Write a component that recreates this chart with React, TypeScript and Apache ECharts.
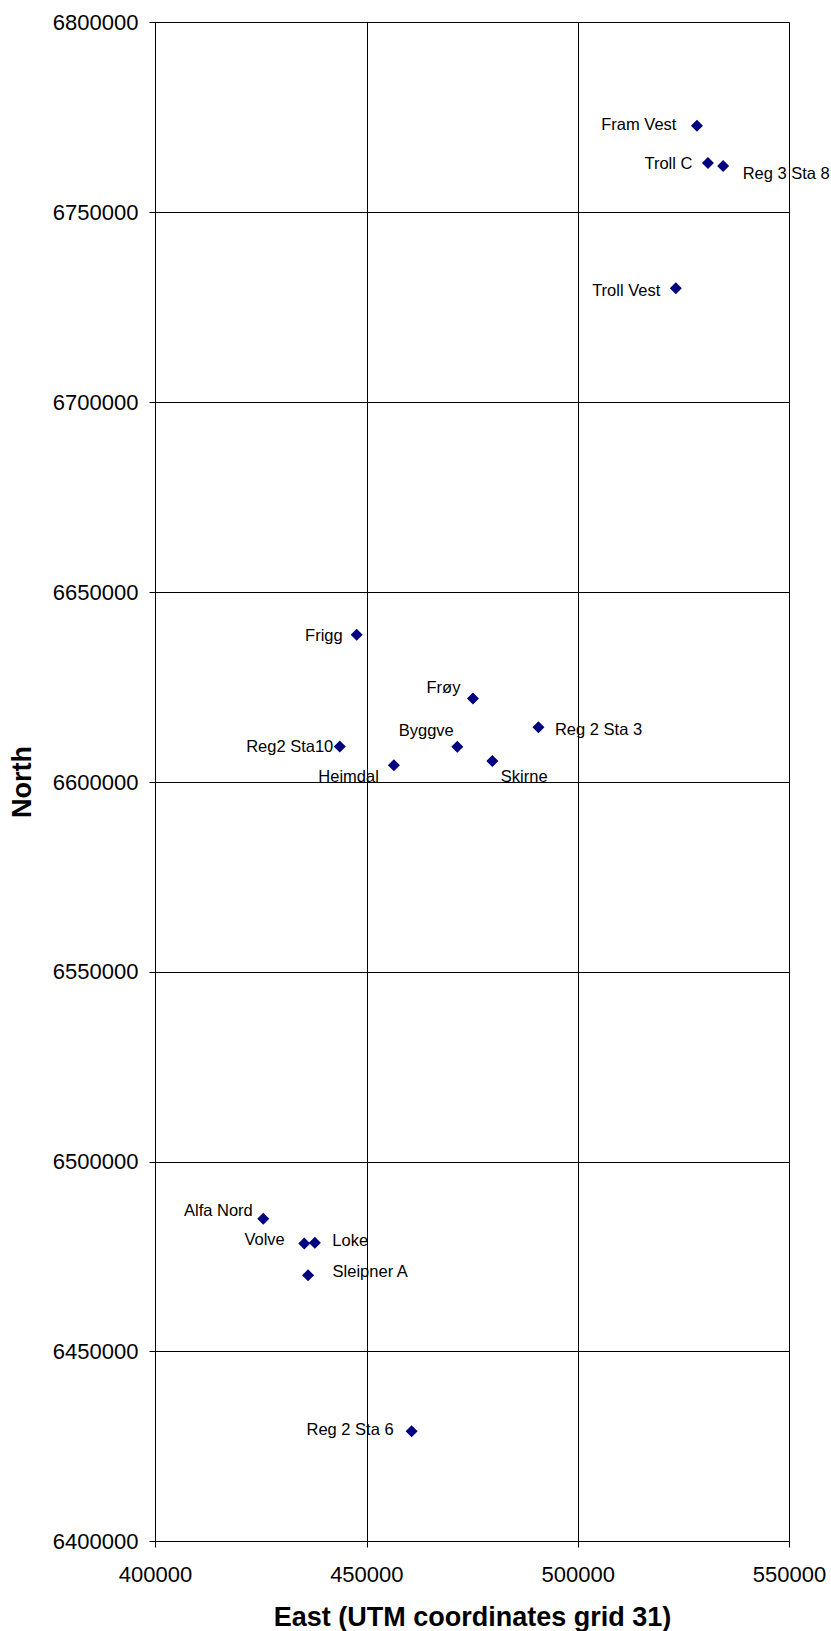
import React, { useEffect, useRef } from "react";
import * as echarts from "echarts";

// ---- data ----
const stations: string[] = [
  "Fram Vest", "Troll C", "Reg 3 Sta 8", "Troll Vest",
  "Frigg", "Frøy", "Reg 2 Sta 3", "Reg2 Sta10", "Byggve", "Heimdal", "Skirne",
  "Alfa Nord", "Volve", "Loke", "Sleipner A", "Reg 2 Sta 6",
];
const east: number[] = [
  528100, 530700, 534300, 523100,
  447600, 475100, 490600, 443600, 471400, 456400, 479700,
  425500, 435200, 437700, 436100, 460600,
];
const north: number[] = [
  6772800, 6763000, 6762200, 6730000,
  6638800, 6622000, 6614400, 6609350, 6609300, 6604400, 6605500,
  6485000, 6478500, 6478700, 6470100, 6429000,
];
const xTicks = { min: 400000, max: 550000, step: 50000 };
const yTicks = { min: 6400000, max: 6800000, step: 50000 };
const xTitle = "East (UTM coordinates grid 31)";
const yTitle = "North";

// ---- label placement (styling only) ----
type Place = { side: "left" | "right"; distance: number; offset: [number, number] };
const labelPlace: Record<string, Place> = {
  "Fram Vest": { side: "left", distance: 14.5, offset: [0, -2] },
  "Troll C": { side: "left", distance: 9.5, offset: [0, 0] },
  "Reg 3 Sta 8": { side: "right", distance: 13.5, offset: [0, 7] },
  "Troll Vest": { side: "left", distance: 9.5, offset: [0, 2] },
  "Frigg": { side: "left", distance: 8, offset: [0, 0] },
  "Frøy": { side: "left", distance: 6.5, offset: [0, -11] },
  "Reg 2 Sta 3": { side: "right", distance: 10.5, offset: [0, 2] },
  "Reg2 Sta10": { side: "left", distance: 0.5, offset: [0, 0] },
  "Byggve": { side: "left", distance: 0, offset: [2.5, -17] },
  "Heimdal": { side: "left", distance: 9, offset: [0, 11] },
  "Skirne": { side: "right", distance: 2.5, offset: [0, 15] },
  "Alfa Nord": { side: "left", distance: 4.5, offset: [0, -9] },
  "Volve": { side: "left", distance: 13.5, offset: [0, -4] },
  "Loke": { side: "right", distance: 11.5, offset: [0, -3] },
  "Sleipner A": { side: "right", distance: 18.5, offset: [0, -4] },
  "Reg 2 Sta 6": { side: "left", distance: 12, offset: [0, -2] },
};

const FONT = "'Liberation Sans', Arial, Helvetica, sans-serif";

export default function App() {
  const ref = useRef<HTMLDivElement>(null);

  useEffect(() => {
    document.body.style.margin = "0";
    if (!ref.current) return;
    const chart = echarts.init(ref.current, null, { renderer: "svg" });

    const data = stations.map((name, i) => {
      const p = labelPlace[name];
      return {
        name,
        value: [east[i], north[i]],
        label: {
          position: p.side,
          distance: p.distance,
          offset: p.offset,
        },
      };
    });

    chart.setOption({
      animation: false,
      backgroundColor: "#ffffff",
      grid: {
        left: 155.5,
        top: 22.5,
        width: 634,
        height: 1519,
        containLabel: false,
        outerBoundsMode: "none",
      },
      xAxis: {
        type: "value",
        min: xTicks.min,
        max: xTicks.max,
        interval: xTicks.step,
        name: xTitle,
        nameLocation: "middle",
        nameGap: 62,
        nameTextStyle: { fontFamily: FONT, fontSize: 27, fontWeight: "bold", color: "#000" },
        axisLine: { show: true, lineStyle: { color: "#000", width: 1 } },
        axisTick: { show: true, length: 6, lineStyle: { color: "#000" } },
        axisLabel: {
          margin: 22,
          fontFamily: FONT,
          fontSize: 22,
          color: "#000",
          formatter: (v: number) => String(v),
        },
        splitLine: { show: true, lineStyle: { color: "#000", width: 1 } },
      },
      yAxis: {
        type: "value",
        min: yTicks.min,
        max: yTicks.max,
        interval: yTicks.step,
        name: yTitle,
        nameLocation: "middle",
        nameGap: 120,
        nameTextStyle: { fontFamily: FONT, fontSize: 27, fontWeight: "bold", color: "#000" },
        axisLine: { show: true, lineStyle: { color: "#000", width: 1 } },
        axisTick: { show: true, length: 6, lineStyle: { color: "#000" } },
        axisLabel: {
          margin: 17,
          fontFamily: FONT,
          fontSize: 22,
          color: "#000",
          formatter: (v: number) => String(v),
        },
        splitLine: { show: true, lineStyle: { color: "#000", width: 1 } },
      },
      series: [
        {
          type: "scatter",
          symbol: "diamond",
          symbolSize: 12,
          itemStyle: { color: "#000080", opacity: 1 },
          label: {
            show: true,
            formatter: (p: any) => p.name,
            fontFamily: FONT,
            fontSize: 16.5,
            color: "#000",
            opacity: 1,
          },
          emphasis: { disabled: true },
          data,
        },
      ],
    });

    return () => chart.dispose();
  }, []);

  return (
    <div
      ref={ref}
      style={{ position: "absolute", left: 0, top: 0, width: 831, height: 1631 }}
    />
  );
}
